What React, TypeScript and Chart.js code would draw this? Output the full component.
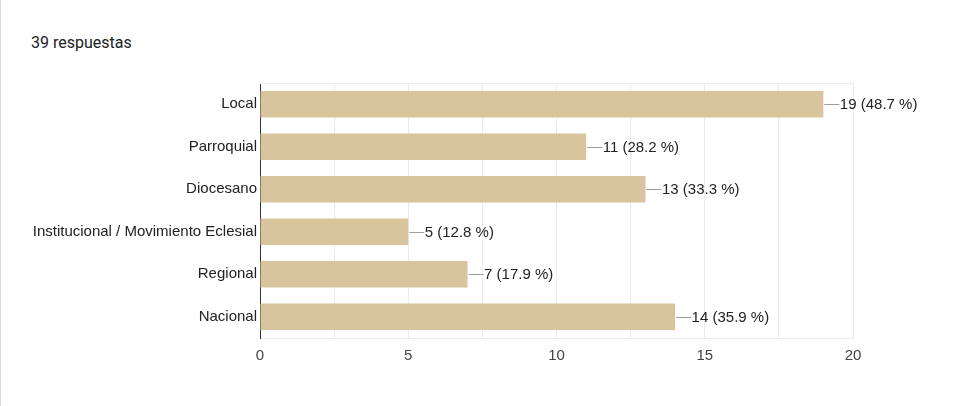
import React, { useEffect, useRef } from "react";
import { Chart, registerables } from "chart.js";

Chart.register(...registerables);

const categories = [
  "Local",
  "Parroquial",
  "Diocesano",
  "Institucional / Movimiento Eclesial",
  "Regional",
  "Nacional",
];
const counts = [19, 11, 13, 5, 7, 14];
const totalResponses = 39;
const titleText = "39 respuestas";

const FONT = 'Arial, "Liberation Sans", sans-serif';

export default function App() {
  const ref = useRef<HTMLCanvasElement | null>(null);

  useEffect(() => {
    document.body.style.margin = "0";
    const canvas = ref.current;
    if (!canvas) return;

    const labelPlugin = {
      id: "valueLabels",
      afterDatasetsDraw(chart: any) {
        const ctx = chart.ctx;
        const meta = chart.getDatasetMeta(0);
        ctx.save();
        meta.data.forEach((bar: any, i: number) => {
          const v = counts[i];
          const pct = ((v / totalResponses) * 100).toFixed(1);
          const x = bar.x;
          const y = Math.round(bar.y) + 0.5;
          ctx.strokeStyle = "#9e9e9e";
          ctx.lineWidth = 1;
          ctx.beginPath();
          ctx.moveTo(x + 1, y);
          ctx.lineTo(x + 16, y);
          ctx.stroke();
          ctx.fillStyle = "#222222";
          ctx.font = `15px ${FONT}`;
          ctx.textBaseline = "middle";
          ctx.textAlign = "left";
          ctx.fillText(`${v} (${pct} %)`, x + 16.5, bar.y + 1);
        });
        ctx.restore();
      },
      beforeDatasetsDraw(chart: any) {
        const { ctx, chartArea } = chart;
        ctx.save();
        ctx.strokeStyle = "#ebebeb";
        ctx.lineWidth = 1;
        ctx.beginPath();
        ctx.moveTo(chartArea.left, Math.round(chartArea.top) + 0.5);
        ctx.lineTo(chartArea.right, Math.round(chartArea.top) + 0.5);
        ctx.stroke();
        ctx.restore();
      },
    };

    const chart = new Chart(canvas, {
      type: "bar",
      data: {
        labels: categories,
        datasets: [
          {
            data: counts,
            backgroundColor: "#d8c59d",
            borderWidth: 0,
            categoryPercentage: 0.62,
            barPercentage: 1,
          },
        ],
      },
      options: {
        indexAxis: "y",
        responsive: false,
        animation: false,
        layout: { padding: { left: 0, right: 104, top: 83, bottom: 0 } },
        plugins: {
          legend: { display: false },
          tooltip: { enabled: false },
        },
        scales: {
          x: {
            min: 0,
            max: 20,
            ticks: {
              stepSize: 2.5,
              autoSkip: false,
              maxRotation: 0,
              color: "#444444",
              font: { family: FONT, size: 15 },
              padding: 9,
              callback: (v: any) => (Number(v) % 5 === 0 ? String(v) : ""),
            },
            grid: { color: "#ebebeb", drawTicks: false },
            border: { color: "#ebebeb", width: 1 },
            afterFit: (s: any) => {
              s.height = 68;
            },
          },
          y: {
            ticks: {
              color: "#222222",
              font: { family: FONT, size: 15 },
              padding: 3,
            },
            grid: { display: false, drawTicks: false },
            border: { color: "#333333", width: 1 },
            afterFit: (s: any) => {
              s.width = 260;
            },
          },
        },
      },
      plugins: [labelPlugin],
    } as any);

    return () => chart.destroy();
  }, []);

  return (
    <div style={{ position: "absolute", left: 0, top: 0, width: 957, height: 406, background: "#fff" }}>
      <div style={{ position: "absolute", left: 0, top: 0, width: 1, height: 406, background: "#dadce0" }} />
      <div
        style={{
          position: "absolute",
          left: 31,
          top: 34,
          fontFamily: "Roboto, Arial, sans-serif",
          fontSize: 16,
          lineHeight: "18px",
          color: "#202124",
        }}
      >
        {titleText}
      </div>
      <canvas ref={ref} width={957} height={406} style={{ position: "absolute", left: 0, top: 0 }} />
    </div>
  );
}
